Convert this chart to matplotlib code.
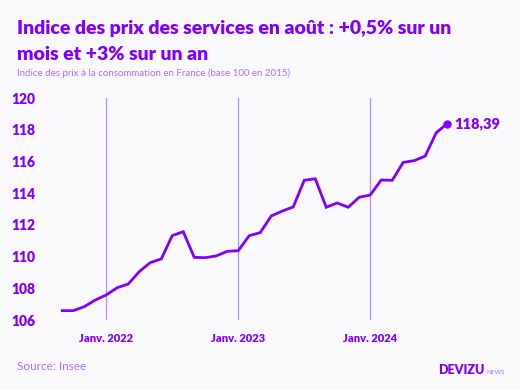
import matplotlib
matplotlib.use("Agg")
import matplotlib.pyplot as plt
import numpy as np
import pandas as pd

# Indice des prix des services, sept. 2021 -> août 2024 (base 100 en 2015)
months = pd.date_range("2021-09-01", periods=36, freq="MS")
values = [
    106.59, 106.59, 106.84, 107.26, 107.58, 108.04, 108.27, 109.05, 109.62, 109.85,
    111.32, 111.57, 109.95, 109.93, 110.04, 110.33, 110.37, 111.32, 111.51, 112.56,
    112.87, 113.13, 114.81, 114.91, 113.11, 113.38, 113.11, 113.74, 113.88, 114.83,
    114.81, 115.94, 116.05, 116.34, 117.81, 118.39,
]
yticks = [106, 108, 110, 112, 114, 116, 118, 120]
last_label = "118,39"

PURPLE = "#8000ff"
LIGHT = "#b46dff"
GRID = "#b98cff"
BG = "#f9f9fb"

plt.rcParams["font.family"] = ["Lato", "DejaVu Sans"]

fig = plt.figure(figsize=(5.2, 3.9), dpi=100, facecolor=BG)
ax = fig.add_axes([45 / 520, 1 - 320 / 390, 455 / 520, 222 / 390])
ax.set_facecolor(BG)

x = np.arange(len(values))
jan = [i for i, m in enumerate(months) if m.month == 1]
for i in jan:
    ax.axvline(i, color=GRID, linewidth=0.9, zorder=1)

ax.plot(x, values, color=PURPLE, linewidth=2.0, solid_joinstyle="miter", zorder=3)
ax.plot(x[-1], values[-1], "o", color=PURPLE, markersize=5, zorder=4)
ax.annotate(last_label, (x[-1], values[-1]), xytext=(5, 0), textcoords="offset points",
            va="center", ha="left", fontsize=10.5, fontweight="heavy", color=PURPLE)

ax.set_xlim(-1.57, 39.8)
ax.set_ylim(106, 120)
ax.set_yticks(yticks)
ax.set_yticklabels([str(v) for v in yticks])
ax.set_xticks(jan)
ax.set_xticklabels([f"Janv. {months[i].year}" for i in jan])
ax.tick_params(axis="y", length=0, pad=7, labelsize=10, labelcolor=PURPLE)
ax.tick_params(axis="x", length=0, pad=9, labelsize=8, labelcolor=PURPLE)
for lab in ax.get_xticklabels() + ax.get_yticklabels():
    lab.set_fontweight("heavy")
for s in ax.spines.values():
    s.set_visible(False)

fig.text(17 / 520, 1 - 34 / 390, "Indice des prix des services en août : +0,5% sur un",
         fontsize=14, fontweight="heavy", color=PURPLE, va="baseline")
fig.text(17 / 520, 1 - 60 / 390, "mois et +3% sur un an",
         fontsize=14, fontweight="heavy", color=PURPLE, va="baseline")
fig.text(17 / 520, 1 - 76 / 390, "Indice des prix à la consommation en France (base 100 en 2015)",
         fontsize=7, color=LIGHT, va="baseline")
fig.text(17 / 520, 1 - 370 / 390, "Source: Insee", fontsize=8.5, color=LIGHT, va="baseline")
fig.text(438 / 520, 1 - 374 / 390, "DEVIZU", fontsize=9, fontweight="heavy",
         color=PURPLE, va="baseline")
fig.text(486 / 520, 1 - 374 / 390, "NEWS", fontsize=4.5, color=LIGHT, va="baseline")

fig.savefig("out.png", dpi=100, facecolor=BG)
